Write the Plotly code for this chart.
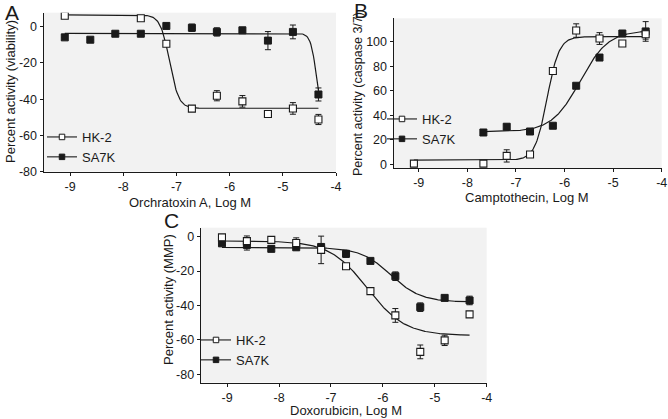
import numpy as np
import plotly.graph_objects as go

W, H = 668, 419

# ---------------- data ----------------
log_conc = [-9.10, -8.62, -8.15, -7.67, -7.19, -6.71, -6.24, -5.76, -5.28, -4.81, -4.33]

# Panel A: Orchratoxin A (viability)
a_hk2_x = [-9.10, -7.67, -7.19, -6.71, -6.24, -5.76, -5.28, -4.81, -4.33]
a_hk2_y = [6.0, 4.6, -9.4, -45.2, -38.1, -41.2, -48.2, -45.1, -51.2]
a_hk2_err = [0, 0, 0, 0, 2.8, 3.2, 0.8, 3.2, 2.8]
a_sa7k_x = log_conc
a_sa7k_y = [-5.9, -7.2, -3.9, -3.9, 0.4, -0.6, -2.9, -2.0, -7.7, -2.9, -37.4]
a_sa7k_err = [0, 0, 0, 0, 0, 2.0, 2.3, 0, 5.0, 3.8, 3.6]
# fit params: (left plateau, right plateau, logEC50, hill)
a_hk2_fit = (6.5, -45.0, -7.13, 5.0)
a_sa7k_fit = (-3.7, -50.0, -4.37, 8.0)

# Panel B: Camptothecin (caspase 3/7)
b_hk2_x = [-9.10, -7.67, -7.19, -6.71, -6.24, -5.76, -5.28, -4.81, -4.33]
b_hk2_y = [0.5, 0.5, 6.8, 7.9, 76.0, 109.0, 102.5, 98.4, 106.0]
b_hk2_err = [0, 0, 5.0, 0, 0, 5.5, 4.8, 0, 4.0]
b_sa7k_x = [-7.67, -7.19, -6.71, -6.24, -5.76, -5.28, -4.81, -4.33]
b_sa7k_y = [25.9, 30.6, 26.7, 31.4, 64.0, 87.0, 106.6, 108.3]
b_sa7k_err = [0, 2.0, 0, 0, 0, 0, 0, 8.0]
b_hk2_fit = (3.3, 104.0, -6.36, 3.5)
b_sa7k_fit = (26.5, 109.0, -5.68, 1.5)

# Panel C: Doxorubicin (MMP)
c_hk2_x = log_conc
c_hk2_y = [-0.4, -2.6, -1.9, -3.7, -7.7, -17.2, -31.7, -45.8, -67.0, -60.3, -45.2]
c_hk2_err = [0, 3.0, 1.5, 3.0, 8.0, 0, 0, 4.0, 4.0, 3.0, 0]
c_sa7k_x = log_conc
c_sa7k_y = [-3.9, -4.8, -7.1, -6.2, -6.0, -10.0, -14.1, -23.0, -41.0, -35.6, -37.1]
c_sa7k_err = [1.5, 3.0, 1.5, 1.5, 1.5, 2.0, 1.0, 2.5, 2.5, 1.5, 2.5]
c_hk2_fit = (-2.5, -57.5, -6.30, 1.2)
c_sa7k_fit = (-6.3, -38.0, -5.85, 1.5)

x_tickvals = [-9, -8, -7, -6, -5, -4]
x_ticktext = ["-9", "-8", "-7", "-6", "-5", "-4"]
a_yticks = [-80, -60, -40, -20, 0]
b_yticks = [0, 20, 40, 60, 80, 100]
c_yticks = [-80, -60, -40, -20, 0]

series_names = ["HK-2", "SA7K"]
x_titles = ["Orchratoxin A, Log M", "Camptothecin, Log M", "Doxorubicin, Log M"]
y_titles = ["Percent activity (viability)", "Percent activity (caspase 3/7)", "Percent activity (MMP)"]
panel_letters = ["A", "B", "C"]

FONT = "Liberation Sans, Arial, sans-serif"
INK = "#1a1a1a"


def fit_curve(xs, p):
    left, right, ec50, hill = p
    xx = np.linspace(min(xs), max(xs), 300)
    yy = right + (left - right) / (1.0 + 10.0 ** ((xx - ec50) * hill))
    return xx, yy


fig = go.Figure()

panels = [
    ("x", "y", a_hk2_x, a_hk2_y, a_hk2_err, a_hk2_fit, a_sa7k_x, a_sa7k_y, a_sa7k_err, a_sa7k_fit, "legend"),
    ("x2", "y2", b_hk2_x, b_hk2_y, b_hk2_err, b_hk2_fit, b_sa7k_x, b_sa7k_y, b_sa7k_err, b_sa7k_fit, "legend2"),
    ("x3", "y3", c_hk2_x, c_hk2_y, c_hk2_err, c_hk2_fit, c_sa7k_x, c_sa7k_y, c_sa7k_err, c_sa7k_fit, "legend3"),
]

open_marker = dict(symbol="square", size=7, color="white", line=dict(color=INK, width=1.1))
fill_marker = dict(symbol="square", size=7, color=INK, line=dict(color=INK, width=1))
open_marker_leg = dict(symbol="square", size=5.5, color="white", line=dict(color=INK, width=1))
fill_marker_leg = dict(symbol="square", size=5.5, color=INK, line=dict(color=INK, width=1))

for xa, ya, hx, hy, he, hf, sx, sy, se, sf, lg in panels:
    for xs, p in ((hx, hf), (sx, sf)):
        cx, cy = fit_curve(xs, p)
        fig.add_trace(go.Scatter(x=cx, y=cy, mode="lines", line=dict(color=INK, width=1.2),
                                 xaxis=xa, yaxis=ya, showlegend=False, hoverinfo="skip"))
    fig.add_trace(go.Scatter(x=sx, y=sy, mode="markers", marker=fill_marker,
                             error_y=dict(type="data", array=se, color=INK, thickness=1, width=3),
                             xaxis=xa, yaxis=ya, showlegend=False))
    fig.add_trace(go.Scatter(x=hx, y=hy, mode="markers", marker=open_marker,
                             error_y=dict(type="data", array=he, color=INK, thickness=1, width=3),
                             xaxis=xa, yaxis=ya, showlegend=False))
    # legend entries
    fig.add_trace(go.Scatter(x=[None], y=[None], mode="lines+markers", name=series_names[0],
                             line=dict(color=INK, width=1.1), marker=open_marker_leg,
                             xaxis=xa, yaxis=ya, legend=lg))
    fig.add_trace(go.Scatter(x=[None], y=[None], mode="lines+markers", name=series_names[1],
                             line=dict(color=INK, width=1.1), marker=fill_marker_leg,
                             xaxis=xa, yaxis=ya, legend=lg))


def px_x(p):
    return p / W


def px_y(p):
    return 1 - p / H


axis_common = dict(showline=True, linecolor=INK, linewidth=1, ticks="outside", ticklen=3,
                   tickcolor=INK, tickwidth=1, showgrid=False, zeroline=False, automargin=False,
                   tickfont=dict(family=FONT, size=12.5, color=INK))

# plot boxes in pixels: (left, right, top, bottom)
boxA = (43.5, 336.0, 12.7, 171.7)
boxB = (393.5, 661.7, 18.3, 168.3)
boxC = (200.7, 486.7, 227.7, 382.5)

fig.update_layout(
    width=W, height=H,
    margin=dict(l=0, r=0, t=0, b=0, autoexpand=False),
    paper_bgcolor="white",
    plot_bgcolor="#f2f2f2",
    font=dict(family=FONT, size=13, color=INK),
    xaxis=dict(axis_common, domain=[px_x(boxA[0]), px_x(boxA[1])], range=[-9.5, -4], anchor="y",
               tickvals=x_tickvals, ticktext=x_ticktext),
    yaxis=dict(axis_common, domain=[px_y(boxA[3]), px_y(boxA[2])], range=[-80, 7.7], anchor="x",
               tickvals=a_yticks, ticktext=[str(v) for v in a_yticks]),
    xaxis2=dict(axis_common, domain=[px_x(boxB[0]), px_x(boxB[1])], range=[-9.52, -4], anchor="y2",
                tickvals=x_tickvals, ticktext=x_ticktext),
    yaxis2=dict(axis_common, domain=[px_y(boxB[3]), px_y(boxB[2])], range=[-3.3, 119], anchor="x2",
                tickvals=b_yticks, ticktext=[str(v) for v in b_yticks]),
    xaxis3=dict(axis_common, domain=[px_x(boxC[0]), px_x(boxC[1])], range=[-9.51, -4], anchor="y3",
                tickvals=x_tickvals, ticktext=x_ticktext),
    yaxis3=dict(axis_common, domain=[px_y(boxC[3]), px_y(boxC[2])], range=[-84.8, 5.2], anchor="x3",
                tickvals=c_yticks, ticktext=[str(v) for v in c_yticks]),
)

leg_common = dict(bgcolor="rgba(0,0,0,0)", borderwidth=0, xanchor="left", yanchor="top",
                  font=dict(family=FONT, size=13, color=INK), tracegroupgap=0, itemwidth=30)
fig.update_layout(
    legend=dict(leg_common, x=px_x(42), y=px_y(122)),
    legend2=dict(leg_common, x=px_x(382), y=px_y(104)),
    legend3=dict(leg_common, x=px_x(196), y=px_y(325)),
)

annotations = []
# x titles (center x, center y)
for t, (cx, cy) in zip(x_titles, [(190, 203), (527, 197), (346, 410)]):
    annotations.append(dict(text=t, x=px_x(cx), y=px_y(cy), xref="paper", yref="paper",
                            xanchor="center", yanchor="middle", showarrow=False,
                            font=dict(family=FONT, size=13, color=INK)))
for t, (cx, cy), fs in zip(y_titles, [(10, 92), (358, 94), (168, 300)], [13, 12.5, 13]):
    annotations.append(dict(text=t, x=px_x(cx), y=px_y(cy), xref="paper", yref="paper",
                            xanchor="center", yanchor="middle", showarrow=False, textangle=-90,
                            font=dict(family=FONT, size=fs, color=INK)))
for t, (cx, cy) in zip(panel_letters, [(12, 12), (361, 11), (171, 221)]):
    annotations.append(dict(text=t, x=px_x(cx), y=px_y(cy), xref="paper", yref="paper",
                            xanchor="center", yanchor="middle", showarrow=False,
                            font=dict(family=FONT, size=21, color=INK)))
fig.update_layout(annotations=annotations)

fig.write_html("out.html",
               config={"displayModeBar": False},
               post_script="document.body.style.margin='0';document.body.style.padding='0';"
                           "document.body.style.overflow='hidden';")
